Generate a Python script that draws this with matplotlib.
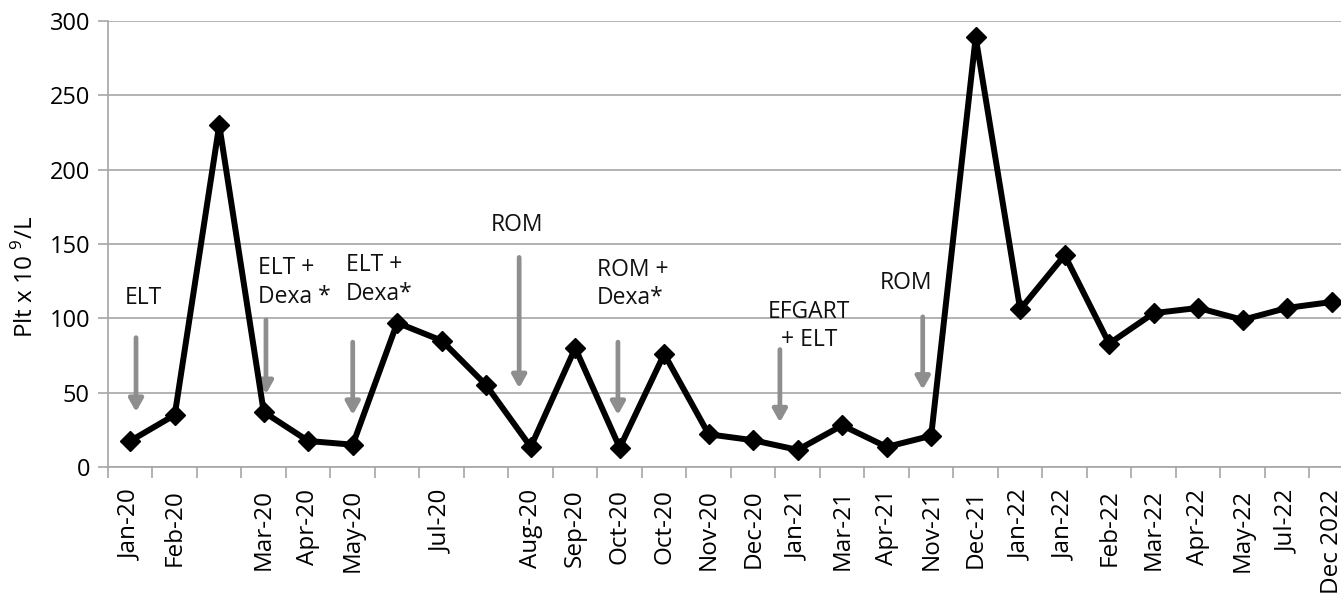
import matplotlib.pyplot as plt

plt.rcParams['font.family'] = ['Open Sans', 'DejaVu Sans']
plt.rcParams['mathtext.fontset'] = 'custom'
plt.rcParams['mathtext.rm'] = 'Open Sans'

# data
months = ["Jan-20", "Feb-20", "", "Mar-20", "Apr-20", "May-20", "", "Jul-20", "",
          "Aug-20", "Sep-20", "Oct-20", "Oct-20", "Nov-20", "Dec-20", "Jan-21",
          "Mar-21", "Apr-21", "Nov-21", "Dec-21", "Jan-22", "Jan-22", "Feb-22",
          "Mar-22", "Apr-22", "May-22", "Jul-22", "Dec 2022"]
plt_count = [17.5, 35, 230, 37, 17.5, 15, 97, 85, 55, 13.5, 80, 13, 76, 22, 18,
             11.5, 28, 13.5, 21, 289, 106, 142.5, 83, 103.5, 107, 99, 107, 111]

# treatment annotations
treat_labels = ["ELT", "ELT +\nDexa *", "ELT +\nDexa*", "ROM", "ROM +\nDexa*",
                "EFGART\n+ ELT", "ROM"]
arrow_x = [0.13, 3.05, 5.0, 8.74, 10.96, 14.6, 17.81]
arrow_top = [87, 99, 84, 141, 84, 79, 101]
arrow_tip = [37, 49, 35, 53, 35, 30, 52]
text_x = [-0.12, 2.87, 4.85, 8.11, 10.49, 15.25, 16.85]
text_y = [114, 124, 126, 163, 123, 95, 124]
text_ha = ["left", "left", "left", "left", "left", "center", "left"]

fig = plt.figure(figsize=(13.41, 6.03), dpi=100)
ax = fig.add_axes([108 / 1341, 1 - 467 / 603, 1 - 108 / 1341, (467 - 21) / 603])

xs = list(range(len(months)))
ax.plot(xs, plt_count, color="black", linewidth=4.3, marker="D", markersize=10,
        zorder=3)

for i in range(len(treat_labels)):
    ax.annotate("", xy=(arrow_x[i], arrow_tip[i]), xytext=(arrow_x[i], arrow_top[i]),
                arrowprops=dict(arrowstyle="-|>,head_length=0.75,head_width=0.42",
                                color="#8e8e8e", lw=3.4, shrinkA=0, shrinkB=0),
                zorder=2)
    ax.text(text_x[i], text_y[i], treat_labels[i], ha=text_ha[i], va="center",
            fontsize=16.5, color="#111111", linespacing=1.25)

ax.set_yticks(range(0, 301, 50))
ax.grid(axis="y", color="#a6a6a6", linewidth=1.2)
ax.set_axisbelow(True)

ax.set_xticks(xs)
ax.set_xticklabels(months, rotation=90, fontsize=17.5)
ax.set_xticks([x + 0.5 for x in range(-1, len(months))], minor=True)
ax.tick_params(axis="x", which="major", length=0, pad=16)
ax.tick_params(axis="x", which="minor", length=8, color="#a6a6a6", width=1.2)
ax.tick_params(axis="y", length=7, color="#a6a6a6", width=1.2, labelsize=17, pad=6)

# limits after the ticks, so the minor ticks do not widen the view
ax.set_xlim(-0.5, 27.21)
ax.set_ylim(0, 300)

for side in ["top", "right"]:
    ax.spines[side].set_visible(False)
for side in ["left", "bottom"]:
    ax.spines[side].set_color("#a6a6a6")
    ax.spines[side].set_linewidth(1.2)

ax.set_ylabel(r"Plt x 10 $^{9}$/L", fontsize=17.5)
ax.yaxis.set_label_coords(-0.056, 0.426)

fig.savefig("out.png", dpi=100)
